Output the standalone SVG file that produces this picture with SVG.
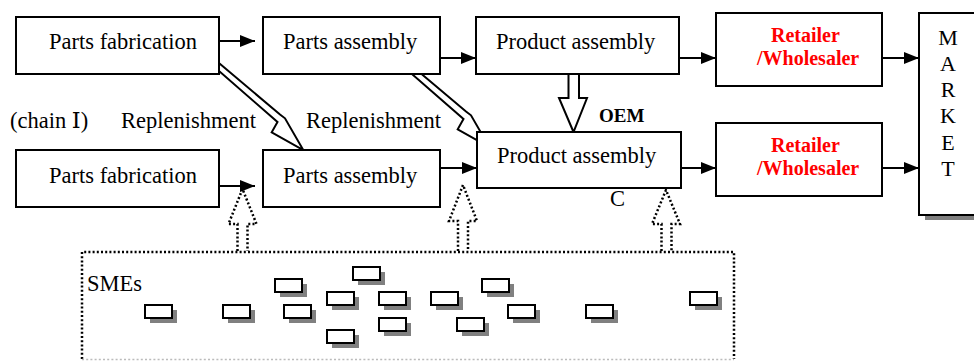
<svg xmlns="http://www.w3.org/2000/svg" xmlns:xlink="http://www.w3.org/1999/xlink" width="974" height="361" viewBox="0 0 974 361">
  <style>
    .box { fill: #fff; stroke: #000; stroke-width: 2; }
    .hollow { fill: #fff; stroke: #000; stroke-width: 2; stroke-linejoin: miter; }
    .flow { stroke: #000; stroke-width: 2; fill: none; marker-end: url(#head); }
    .dotted { fill: none; stroke: #000; stroke-width: 2.5; stroke-dasharray: 2 2.2; }
    .t { font-family: "Liberation Serif", "DejaVu Serif", serif; font-size: 22.5px; fill: #000; }
    .red { font-family: "Liberation Serif", "DejaVu Serif", serif; font-size: 20px; font-weight: bold; fill: #ff0000; }
    .oem { font-family: "Liberation Serif", "DejaVu Serif", serif; font-size: 19px; font-weight: bold; fill: #000; }
    .mk { font-family: "Liberation Serif", "DejaVu Serif", serif; font-size: 22px; fill: #000; text-anchor: middle; }
  </style>
  <defs>
    <marker id="head" markerUnits="userSpaceOnUse" markerWidth="16" markerHeight="14" refX="15" refY="6" orient="auto">
      <path d="M0,0 L15,6 L0,12 z" fill="#000"/>
    </marker>
    <g id="sme">
      <rect x="5" y="5" width="27" height="13" fill="#808080"/>
      <rect x="0" y="0" width="27" height="13" fill="#fff" stroke="#000" stroke-width="2"/>
    </g>
  </defs>

  <!-- hollow block arrows (drawn under the boxes) -->
  <g id="connectors-hollow">
    <polygon class="hollow" points="213.3,58.3 280,114.5 285,118.3 303.3,150 271.7,132.3 277.5,122 216.7,69"/>
    <polygon class="hollow" points="399.3,55.3 466,111.5 471,115.3 489.3,147 457.7,129.3 463.5,119 402.7,66"/>
    <polygon class="hollow" points="568.5,70 568.5,98 559,98 573.5,132 587,98 579,98 579,70"/>
  </g>

  <g id="n-parts-fab-1">
    <rect class="box" x="16" y="17" width="203" height="57"/>
    <text class="t" x="49" y="49">Parts fabrication</text>
  </g>
  <g id="n-parts-asm-1">
    <rect class="box" x="263" y="17" width="177" height="57"/>
    <text class="t" x="283" y="49">Parts assembly</text>
  </g>
  <g id="n-product-asm-1">
    <rect class="box" x="476" y="17" width="203" height="57"/>
    <text class="t" x="496" y="49">Product assembly</text>
  </g>
  <g id="n-parts-fab-2">
    <rect class="box" x="16" y="150" width="203" height="57"/>
    <text class="t" x="49" y="183">Parts fabrication</text>
  </g>
  <g id="n-parts-asm-2">
    <rect class="box" x="263" y="150" width="177" height="57"/>
    <text class="t" x="283" y="183">Parts assembly</text>
  </g>
  <g id="n-product-asm-2">
    <rect class="box" x="477" y="132" width="204" height="56"/>
    <text class="t" x="497" y="163">Product assembly</text>
  </g>
  <g id="n-retailer-1">
    <rect class="box" x="716" y="13" width="166" height="73"/>
    <text class="red" x="771" y="42">Retailer</text>
    <text class="red" x="757" y="65">/Wholesaler</text>
  </g>
  <g id="n-retailer-2">
    <rect class="box" x="716" y="123" width="166" height="73"/>
    <text class="red" x="771" y="152">Retailer</text>
    <text class="red" x="757" y="175">/Wholesaler</text>
  </g>
  <g id="n-market">
    <rect x="925" y="20" width="60" height="200" fill="#808080"/>
    <rect class="box" x="919" y="13" width="70" height="202"/>
    <text class="mk" x="948" y="44.5">M</text>
    <text class="mk" x="948" y="70.8">A</text>
    <text class="mk" x="948" y="97.1">R</text>
    <text class="mk" x="948" y="123.4">K</text>
    <text class="mk" x="948" y="149.7">E</text>
    <text class="mk" x="948" y="176">T</text>
  </g>

  <!-- flow arrows -->
  <g id="connectors">
    <line class="flow" x1="219" y1="41" x2="255" y2="41"/>
    <line class="flow" x1="440" y1="58" x2="476" y2="58"/>
    <line class="flow" x1="679" y1="58" x2="716" y2="58"/>
    <line class="flow" x1="882" y1="58" x2="919" y2="58"/>
    <line class="flow" x1="219" y1="186" x2="255" y2="186"/>
    <line class="flow" x1="440" y1="168" x2="477" y2="168"/>
    <line class="flow" x1="681" y1="168" x2="716" y2="168"/>
    <line class="flow" x1="882" y1="168" x2="919" y2="168"/>
    <!-- dotted support arrows from the SME pool -->
    <polyline class="dotted" points="237.5,251 237.5,224 228.5,224 242.5,189 256.5,224 247.5,224 247.5,251"/>
    <polyline class="dotted" points="458,251 458,221 449,221 463,185 477,221 468,221 468,251"/>
    <polyline class="dotted" points="661.5,251 661.5,224 652,224 666,190 680,224 671.5,224 671.5,251"/>
  </g>

  <g id="n-smes">
    <path class="dotted" d="M82,359 V252 H734 V359"/>
    <line x1="82" y1="359.5" x2="734" y2="359.5" stroke="#bbb" stroke-width="1.5" stroke-dasharray="2 2.2"/>
    <text class="t" x="87" y="291">SMEs</text>
    <use xlink:href="#sme" x="145" y="305"/>
    <use xlink:href="#sme" x="223" y="305"/>
    <use xlink:href="#sme" x="275" y="279"/>
    <use xlink:href="#sme" x="284" y="305"/>
    <use xlink:href="#sme" x="327" y="292"/>
    <use xlink:href="#sme" x="353" y="267"/>
    <use xlink:href="#sme" x="379" y="292"/>
    <use xlink:href="#sme" x="379" y="318"/>
    <use xlink:href="#sme" x="327" y="330"/>
    <use xlink:href="#sme" x="431" y="292"/>
    <use xlink:href="#sme" x="482" y="279"/>
    <use xlink:href="#sme" x="508" y="305"/>
    <use xlink:href="#sme" x="457" y="318"/>
    <use xlink:href="#sme" x="586" y="305"/>
    <use xlink:href="#sme" x="690" y="292"/>
  </g>

  <g id="labels">
    <text class="t" x="10" y="128">(chain Ⅰ)</text>
    <text class="t" x="121" y="128">Replenishment</text>
    <text class="t" x="306" y="128">Replenishment</text>
    <text class="oem" x="599" y="122">OEM</text>
    <text class="t" x="610" y="206">C</text>
  </g>
</svg>
